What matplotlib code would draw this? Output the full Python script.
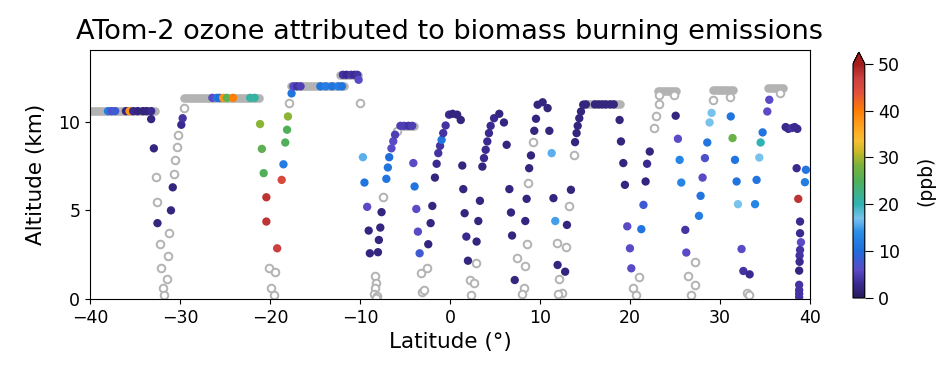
import numpy as np
import matplotlib
matplotlib.use("Agg")
import matplotlib.pyplot as plt
from matplotlib.colors import LinearSegmentedColormap

nan = np.nan

# level legs flown at constant altitude (lat start, lat end, altitude km)
leg_lat0 = [-41.0, -29.6, -17.7, -12.2, -5.6, 14.8, 23.1, 29.2, 35.3]
leg_lat1 = [-32.8, -21.2, -11.8, -10.2, -4.0, 18.9, 25.1, 31.4, 37.0]
leg_alt = [10.6, 11.35, 12.0, 12.65, 9.77, 10.98, 11.75, 11.8, 11.9]

# individual samples: latitude, altitude (km), BB ozone (ppb, nan = not available)
lat = [
    # leg 1 samples
    -38.0, -37.6, -37.2, -36.0, -35.6, -35.2, -34.7, -34.1, -33.7, -33.2,
    # profile 1
    -33.2, -32.9, -32.7, -32.55, -32.5, -32.26, -32.1, -31.9, -31.75,
    -31.4, -31.3, -31.2, -31.0, -30.8, -30.7, -30.5, -30.3, -30.2, -29.85, -29.7, -29.5,
    # leg 2 samples
    -26.4, -25.9, -25.6, -25.2, -24.8, -24.1, -22.2, -21.7,
    # profile 2
    -21.1, -20.9, -20.7, -20.4, -20.4, -19.2, -20.1, -19.4, -19.9, -19.6,
    -18.7, -18.5, -18.3, -18.1, -18.0, -17.85, -17.6,
    # leg 3 / 4 samples
    -17.4, -17.0, -16.6, -14.4, -13.8, -13.1, -12.4, -12.0,
    -11.9, -11.5, -11.0, -10.6, -10.3, -10.15, -10.0,
    # profile 3
    -9.67, -9.5, -9.2, -9.03, -8.9, -8.3, -8.2, -8.3, -8.4, -8.1, -8.25,
    -8.0, -7.9, -7.74, -7.6, -7.44, -7.07, -6.9, -6.75, -6.5, -6.3, -6.1, -5.9,
    -5.5, -5.1, -4.6, -4.2,
    # profile 4
    -4.07, -3.93, -3.74, -3.56, -3.37, -3.26, -2.52, -3.08, -2.9,
    -2.41, -2.15, -1.96, -1.67, -1.48, -1.3, -1.1, -0.93, -0.75, -0.48,
    -0.1, 0.3, 0.8, 1.2,
    # profile 5
    1.37, 1.48, 1.63, 1.82, 2.0, 2.85, 2.22, 2.67, 2.37,
    2.96, 3.15, 3.33, 3.6, 3.78, 3.97, 4.15, 4.33, 4.52, 4.9, 5.48, 6.0,
    # profile 6
    6.3, 6.6, 6.78, 6.9, 7.2, 8.6, 7.48, 8.33, 8.2, 7.97,
    8.37, 8.52, 8.64, 8.8, 9.0, 9.19, 9.37, 9.56, 9.74, 10.3, 10.85, 11.04,
    # profile 7
    11.3, 11.5, 11.7, 11.96, 12.8, 11.85, 12.85, 12.15, 12.4, 12.0,
    13.0, 13.2, 13.44, 13.74, 13.9, 14.07, 14.19, 14.37, 14.56, 14.81,
    # leg 6 samples
    15.1, 16.1, 16.5, 16.9, 17.3, 17.8, 18.2,
    # profile 8
    18.85, 19.0, 19.26, 19.44, 19.7, 20.0, 20.15, 20.97, 20.33, 20.7,
    21.26, 21.5, 21.74, 21.9, 22.2, 22.63, 22.92, 23.19, 23.2, 24.9,
    # profile 9
    25.08, 25.33, 25.52, 25.7, 26.15, 26.26, 27.26, 26.44, 27.19, 26.81,
    27.67, 27.85, 28.07, 28.33, 28.59, 28.85, 29.07, 29.2, 31.1,
    # profile 10
    31.2, 31.4, 31.67, 31.85, 32.0, 32.4, 32.6, 33.3, 33.0, 33.2,
    33.9, 34.07, 34.37, 34.52, 34.74, 35.26, 35.48, 36.7,
    # profile 11
    37.3, 37.6, 38.0, 38.3, 38.6, 38.52, 39.55, 39.44, 38.7,
    38.9, 38.9, 39.0, 38.9, 38.85, 38.85, 38.8, 38.8, 38.8, 38.8, 38.8,
]
alt = [
    10.6, 10.6, 10.6, 10.6, 10.6, 10.6, 10.6, 10.6, 10.6, 10.6,
    10.15, 8.5, 6.9, 5.46, 4.28, 3.09, 1.77, 0.6, 0.23,
    1.13, 2.45, 3.7, 5.0, 6.3, 7.05, 7.85, 8.6, 9.27, 9.83, 10.2, 10.77,
    11.35, 11.35, 11.35, 11.35, 11.35, 11.35, 11.35, 11.35,
    9.87, 8.47, 7.1, 5.74, 4.37, 2.86, 1.73, 1.5, 0.6, 0.22,
    6.72, 7.6, 8.83, 9.55, 10.3, 11.05, 11.6,
    12.0, 12.0, 12.0, 12.0, 12.0, 12.0, 12.0, 12.0,
    12.65, 12.65, 12.65, 12.65, 12.65, 12.37, 11.05,
    8.0, 6.57, 5.2, 3.86, 2.58, 1.3, 0.9, 0.6, 0.3, 0.15, 0.05,
    2.64, 3.33, 4.03, 4.9, 5.78, 6.78, 7.42, 8.0, 8.5, 8.9, 9.27, 9.5,
    9.77, 9.77, 9.77, 9.77,
    7.67, 6.35, 5.08, 3.8, 2.58, 1.45, 1.73, 0.41, 0.5,
    3.09, 4.28, 5.25, 6.85, 7.63, 8.23, 8.64, 8.98, 9.36, 9.79,
    10.4, 10.45, 10.4, 10.1,
    7.53, 6.2, 4.84, 3.52, 2.16, 2.05, 1.07, 0.89, 0.23,
    3.24, 4.4, 5.54, 7.47, 7.95, 8.42, 8.89, 9.36, 9.77, 10.2, 10.45, 9.96,
    8.7, 6.2, 4.88, 3.58, 1.07, 3.1, 2.33, 1.86, 0.6, 0.28,
    4.4, 5.65, 6.57, 7.38, 8.1, 8.83, 9.49, 10.17, 10.96, 11.1, 10.77, 9.49,
    8.23, 5.69, 4.4, 1.92, 1.54, 3.14, 2.92, 1.11, 0.32, 0.3,
    4.18, 5.22, 6.16, 8.1, 8.85, 9.36, 9.77, 10.2, 10.58, 10.96,
    10.98, 10.98, 10.98, 10.98, 10.98, 10.98, 10.98,
    10.1, 8.89, 7.67, 6.44, 4.1, 2.86, 1.73, 1.22, 0.6, 0.23,
    3.94, 5.31, 6.63, 7.63, 8.32, 9.64, 10.34, 11.0, 11.5, 11.5,
    10.34, 9.04, 7.85, 6.57, 3.9, 2.62, 2.1, 1.32, 0.79, 0.23,
    4.69, 5.82, 6.85, 7.95, 8.83, 9.96, 10.5, 11.25, 11.4,
    10.3, 9.08, 7.85, 6.63, 5.35, 2.82, 1.58, 1.39, 0.36, 0.2,
    5.35, 6.72, 7.98, 8.83, 9.4, 10.58, 11.24, 11.6,
    9.7, 9.6, 9.65, 9.7, 9.6, 7.38, 7.29, 6.59, 5.65,
    4.37, 3.71, 3.2, 2.77, 2.45, 2.1, 1.6, 0.8, 0.5, 0.3, 0.1,
]
o3 = [
    12, 7, 8, 2, 38, 3, 2, 2, 2, 3,
    2, 2, nan, nan, 2, nan, nan, nan, nan,
    nan, nan, nan, 2, 2, nan, nan, nan, nan, 3, 4, nan,
    6, 11, 10, 38, 26, 40, 21, 21,
    29, 26, 25, 48, 48, 47, nan, nan, nan, nan,
    45, 12, 25, 25, 29, nan, 11,
    6, 4, 5, 11, 12, 11, 12, 11,
    4, 3, 4, 3, 4, 6, nan,
    16, 11, 6, 2, 2, nan, nan, nan, nan, nan, nan,
    2, 2, 2, 2, nan, 11, 11, 10, 6, 6, 5, nan,
    5, 5, 4, 5,
    6, 11, 6, 6, 8, nan, nan, nan, nan,
    2, 2, 2, 2, 3, 4, 4, 11, 4, 4,
    3, 2, 2, 2,
    2, 2, 2, 3, 2, nan, nan, nan, nan,
    2, 2, 2, 2, 3, 3, 3, 3, 3, 3, 2, 2,
    2, 2, 2, 2, 2, nan, nan, nan, nan, nan,
    2, 2, nan, 2, 2, nan, 2, 2, 2, 2, 2, 2,
    16, 2, 15, 2, 2, nan, nan, nan, nan, nan,
    2, nan, 2, nan, 2, 2, 2, 2, 2, 2,
    2, 2, 2, 2, 2, 2, 2,
    2, 2, 2, 2, 6, 6, 6, nan, nan, nan,
    11, 8, 2, 3, 2, nan, nan, nan, nan, nan,
    2, 6, 13, 13, 4, 6, nan, nan, nan, nan,
    12, 11, 6, 7, 11, 17, 17, nan, nan,
    11, 27, 11, 11, 17, 6, 4, 3, nan, nan,
    13, 11, 17, 20, 11, 6, 6, nan,
    3, 3, 4, 3, 3, 3, 11, 12, 48,
    3, 3, 6, 4, 4, 3, 2, 4, 4, 4, 4,
]

cmap = LinearSegmentedColormap.from_list("bb", [
    (0.00, "#2a1b5c"), (0.06, "#3a2a90"), (0.12, "#5a4bc8"), (0.20, "#1f6ddc"),
    (0.28, "#2a8ee8"), (0.34, "#79c3ee"), (0.40, "#2fb3b3"), (0.50, "#4fb05a"),
    (0.57, "#7db33a"), (0.62, "#c3b828"), (0.67, "#f6c032"), (0.75, "#ff9a1a"),
    (0.80, "#ff7d05"), (0.88, "#e0503c"), (0.94, "#cc4040"), (1.00, "#a31d1d"),
])
cmap.set_over("#a31d1d")

lat = np.array(lat)
alt = np.array(alt)
o3 = np.array(o3, dtype=float)
miss = np.isnan(o3)

fig = plt.figure(figsize=(9.44, 3.67), dpi=100)
ax = fig.add_axes([0.0953, 0.1853, 0.7627, 0.6785])

for a, b, z in zip(leg_lat0, leg_lat1, leg_alt):
    ax.plot([a, b], [z, z], color="#b3b3b3", lw=6.2, solid_capstyle="round", zorder=1)

ax.scatter(lat[miss], alt[miss], s=30, facecolors="white", edgecolors="#b3b3b3",
           linewidths=1.4, zorder=2)
sc = ax.scatter(lat[~miss], alt[~miss], c=o3[~miss], cmap=cmap, vmin=0, vmax=50,
                s=36, edgecolors="none", zorder=3)

ax.set_xlim(-40, 40)
ax.set_ylim(0, 14.05)
ax.set_xticks(np.arange(-40, 41, 10))
ax.set_yticks([0, 5, 10])
ax.tick_params(labelsize=12.5)
ax.set_xlabel("Latitude (°)", fontsize=15.5)
ax.set_ylabel("Altitude (km)", fontsize=15.5, labelpad=9)
ax.set_title("ATom-2 ozone attributed to biomass burning emissions", fontsize=19.5, pad=8)

cax = fig.add_axes([0.9036, 0.188, 0.0125, 0.670])
cb = fig.colorbar(sc, cax=cax, extend="max", ticks=np.arange(0, 51, 10))
cb.ax.tick_params(labelsize=12.5, length=6)
cb.set_label("(ppb)", fontsize=13.5, labelpad=12)

fig.savefig("out.png", dpi=100)
